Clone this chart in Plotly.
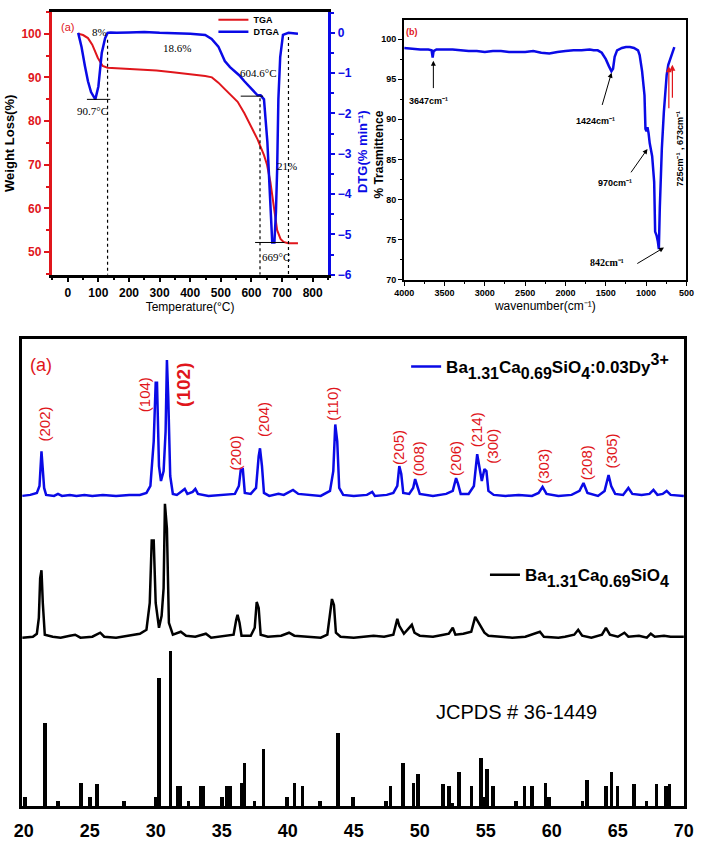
import plotly.graph_objects as go

# ---------------- (a) TGA / DTGA ----------------
TGA_T = [34, 50, 66, 80, 98, 114, 130, 180, 236, 290, 343, 400, 449, 471, 492, 513, 535, 555,
         577, 598, 620, 641, 651, 662, 673, 684, 695, 705, 720, 752]
TGA_W = [100, 99.7, 99.0, 97.5, 94.5, 92.6, 92.2, 92.0, 91.9, 91.6, 91.2, 90.8, 90.3, 90.0, 88.8,
         87.3, 85.9, 84.4, 81.8, 79.0, 75.8, 72.2, 70.0, 66.0, 61.0, 55.0, 53.0, 52.3, 52.0, 52.0]

DTGA_T = [34, 45, 56, 66, 76, 90, 100, 111, 122, 130, 140, 160, 200, 250, 300, 350, 400, 449, 470,
          492, 513, 530, 545, 560, 577, 595, 609, 620, 630, 641, 652, 662, 668, 675, 680, 684, 688,
          694, 703, 721, 752]
DTGA_V = [0, -0.35, -0.82, -1.2, -1.47, -1.65, -1.33, -0.5, -0.13, 0, 0.01, 0, 0.01, 0.02, 0, -0.01,
          -0.02, -0.05, -0.15, -0.34, -0.7, -0.85, -0.95, -1.05, -1.2, -1.35, -1.48, -1.55, -1.55,
          -1.65, -2.7, -4.35, -5.2, -5.2, -4.45, -3.4, -1.65, -0.6, -0.05, 0, -0.02]

# ---------------- (b) FTIR ----------------
FTIR_WN = [4000, 3900, 3800, 3700, 3660, 3647, 3635, 3600, 3500, 3400, 3300, 3200, 3100, 3000,
           2900, 2800, 2700, 2600, 2500, 2400, 2300, 2200, 2100, 2000, 1900, 1800, 1700, 1650,
           1600, 1550, 1500, 1460, 1430, 1410, 1390, 1360, 1300, 1250, 1200, 1150, 1100, 1080,
           1050, 1020, 1008, 995, 983, 970, 955, 925, 900, 888, 870, 855, 842, 830, 805, 780,
           745, 725, 710, 690, 673, 660, 650]
FTIR_TR = [98.9, 98.8, 98.7, 98.7, 98.6, 97.7, 98.5, 98.7, 98.7, 98.7, 98.6, 98.5, 98.5, 98.4,
           98.5, 98.5, 98.4, 98.4, 98.4, 98.5, 98.3, 98.2, 98.4, 98.5, 98.6, 98.6, 98.7, 98.6,
           98.6, 98.3, 97.5, 96.6, 96.0, 96.3, 97.8, 98.6, 98.9, 99.0, 99.0, 98.9, 98.6, 98.0,
           96.0, 93.0, 88.8, 88.5, 89.0, 88.3, 87.0, 85.4, 82.2, 76.0, 75.5, 74.8, 73.8, 79.0,
           86.3, 90.9, 95.5, 96.8, 97.3, 97.8, 98.4, 98.8, 99.0]

# ---------------- XRD ----------------
DY_2T = [19.9, 20.5, 21.0, 21.2, 21.35, 21.45, 21.55, 21.7, 22.3, 22.6, 22.9, 23.5, 24.0, 24.6,
         25.2, 26.0, 27.0, 28.0, 28.8, 29.3, 29.6, 29.85, 30.0, 30.1, 30.25, 30.4, 30.6, 30.75,
         30.85, 30.95, 31.1, 31.3, 31.6, 32.0, 32.2, 32.4, 32.8, 33.0, 33.2, 34.0, 35.0, 36.0,
         36.3, 36.45, 36.6, 36.75, 37.2, 37.6, 37.8, 37.9, 38.05, 38.2, 38.6, 39.3, 39.7, 40.2,
         40.4, 40.8, 41.5, 42.5, 43.2, 43.45, 43.6, 43.75, 43.9, 44.2, 45.0, 46.0, 46.4, 46.6,
         47.5, 48.0, 48.3, 48.45, 48.6, 48.75, 49.2, 49.5, 49.65, 49.8, 50.0, 51.0, 52.0, 52.5,
         52.75, 52.9, 53.1, 53.7, 54.1, 54.35, 54.5, 54.7, 54.9, 55.05, 55.2, 55.6, 56.5, 57.5,
         58.5, 59.0, 59.3, 59.6, 60.5, 61.5, 62.1, 62.4, 62.7, 63.5, 64.0, 64.3, 64.5, 64.8,
         65.4, 65.8, 66.1, 66.8, 67.4, 67.7, 68.0, 68.4, 68.7, 69.0, 70.0]
DY_I = [0, 1, 3, 10, 45, 30, 8, 1, 0, 2, 0, 1, 0, 1,
        0, 1, 0, 1, 1, 3, 10, 55, 114, 114, 30, 15, 25, 65,
        137, 100, 20, 2, 1, 5, 7, 2, 4, 7, 2, 0, 1, 2,
        10, 27, 27, 3, 2, 8, 40, 48, 30, 3, 0, 2, 1, 5,
        6, 2, 1, 0, 5, 25, 72, 55, 8, 1, 0, 1, 4, 0,
        1, 3, 10, 30, 22, 3, 2, 8, 17, 10, 2, 0, 2, 5,
        18, 12, 2, 2, 10, 42, 30, 15, 27, 25, 5, 1, 0, 1,
        0, 3, 9, 2, 0, 1, 5, 13, 3, 0, 5, 21, 10, 2,
        1, 8, 2, 1, 2, 6, 1, 2, 5, 1, 0]

UN_2T = [19.9, 20.7, 21.0, 21.15, 21.25, 21.35, 21.45, 21.6, 22.2, 22.8, 23.5, 23.9, 24.3, 25.2,
         25.8, 26.1, 27.0, 28.0, 28.8, 29.3, 29.55, 29.7, 29.85, 30.0, 30.25, 30.45, 30.6, 30.7,
         30.85, 31.0, 31.3, 31.9, 32.3, 33.0, 33.8, 34.2, 35.3, 35.9, 36.1, 36.2, 36.35, 36.5,
         37.2, 37.5, 37.65, 37.8, 37.95, 38.5, 39.5, 40.1, 40.5, 41.5, 42.5, 43.0, 43.2, 43.35,
         43.5, 43.65, 44.0, 45.0, 46.5, 47.3, 48.0, 48.3, 48.45, 48.8, 49.4, 49.6, 50.0, 51.0,
         51.8, 52.2, 52.5, 52.7, 53.3, 53.9, 54.2, 54.45, 54.65, 54.9, 55.2, 56.0, 57.0, 58.0,
         59.1, 59.4, 60.5, 61.0, 61.7, 62.0, 62.3, 63.0, 63.8, 64.1, 64.4, 65.0, 65.5, 65.8,
         66.6, 67.2, 67.5, 67.8, 68.5, 69.0, 70.0]
UN_I = [0, 1, 4, 20, 60, 68, 35, 3, 1, 0, 2, 3, 0, 1,
        5, 1, 0, 2, 4, 8, 35, 98, 98, 35, 10, 22, 50, 135,
        110, 15, 3, 6, 2, 1, 4, 0, 2, 3, 18, 23, 15, 2,
        2, 10, 36, 30, 3, 1, 2, 5, 2, 1, 0, 3, 25, 39,
        33, 5, 1, 0, 2, 1, 3, 19, 12, 4, 13, 5, 2, 1,
        3, 4, 10, 3, 4, 6, 21, 15, 11, 5, 2, 1, 0, 1,
        6, 1, 0, 1, 3, 8, 2, 0, 3, 10, 3, 1, 5, 1,
        2, 0, 4, 1, 2, 1, 1]

JCPDS_2T = [20.07, 21.6, 22.6, 24.3, 25.0, 25.55, 27.55, 30.0, 30.25, 31.1, 31.65, 31.8, 32.45,
            33.4, 33.55, 35.0, 35.35, 35.6, 36.5, 36.7, 37.45, 38.15, 39.9, 40.5, 41.1, 42.4,
            43.8, 44.9, 47.4, 47.75, 48.7, 49.5, 49.85, 51.75, 52.2, 52.4, 52.95, 53.9, 54.6,
            54.75, 55.05, 55.5, 57.25, 57.9, 58.5, 59.5, 59.75, 62.3, 62.65, 64.1, 64.5, 64.95,
            66.2, 67.15, 67.9, 68.6, 68.9]
JCPDS_I = [6, 54, 3, 15, 6, 14, 3, 6, 83, 100, 13, 13, 3,
           13, 13, 6, 13, 13, 15, 28, 3, 37, 6, 15, 13, 3,
           47, 6, 3, 13, 28, 15, 21, 14, 13, 2, 22, 13, 31,
           6, 24, 13, 3, 13, 13, 15, 6, 3, 17, 13, 22, 13,
           14, 3, 14, 13, 14]

HKL = ["(202)", "(104)", "(102)", "(200)", "(204)", "(110)", "(205)", "(008)", "(206)",
       "(214)", "(300)", "(303)", "(208)", "(305)"]

DY_OFFSET = 313
UN_OFFSET = 170
STICK_SCALE = 1.56

RED = "#e0161c"
BLUE = "#0a0ae6"
SANS = "Liberation Sans"
SERIF = "Liberation Serif"


def sub(t):
    return "<span style='baseline-shift:-6px;font-size:16px'>" + t + "</span>"


def sup(t):
    return "<span style='baseline-shift:8px;font-size:16px'>" + t + "</span>"


DY_NAME = "Ba" + sub("1.31") + "Ca" + sub("0.69") + "SiO" + sub("4") + ":0.03Dy" + sup("3+")
UN_NAME = "Ba" + sub("1.31") + "Ca" + sub("0.69") + "SiO" + sub("4")

fig = go.Figure()

# TGA panel
fig.add_trace(go.Scatter(x=TGA_T, y=TGA_W, mode="lines", name="TGA",
                         line=dict(color=RED, width=2), xaxis="x", yaxis="y", legend="legend"))
fig.add_trace(go.Scatter(x=DTGA_T, y=DTGA_V, mode="lines", name="DTGA",
                         line=dict(color=BLUE, width=2.5), xaxis="x", yaxis="y2", legend="legend4"))

# FTIR
fig.add_trace(go.Scatter(x=FTIR_WN, y=FTIR_TR, mode="lines", showlegend=False,
                         line=dict(color=BLUE, width=2.5), xaxis="x2", yaxis="y3"))

# XRD
fig.add_trace(go.Scatter(x=DY_2T, y=[v + DY_OFFSET for v in DY_I], mode="lines", name=DY_NAME,
                         line=dict(color=BLUE, width=2.5), xaxis="x3", yaxis="y4", legend="legend2"))
fig.add_trace(go.Scatter(x=UN_2T, y=[v + UN_OFFSET for v in UN_I], mode="lines", name=UN_NAME,
                         line=dict(color="black", width=2.5), xaxis="x3", yaxis="y4", legend="legend3"))
fig.add_trace(go.Bar(x=JCPDS_2T, y=[v * STICK_SCALE for v in JCPDS_I], width=0.28,
                     marker=dict(color="black", line=dict(width=0)), showlegend=False,
                     xaxis="x3", yaxis="y4"))


def px_x(p):
    return p / 711.0


def px_y(p):
    return 1 - p / 849.0


bold = dict(family=SANS, weight="bold")
nolegbg = dict(bgcolor="rgba(0,0,0,0)", borderwidth=0, xanchor="left", yanchor="middle")

fig.update_layout(
    width=711, height=849, margin=dict(l=0, r=0, t=0, b=0),
    paper_bgcolor="white", plot_bgcolor="white", bargap=0,
    font=dict(family=SANS, size=12, color="black"),
    xaxis=dict(domain=[px_x(43), px_x(327)], range=[-52, 851], anchor="y",
               showline=True, linecolor="black", linewidth=2.5, mirror=True,
               ticks="outside", ticklen=5, tickwidth=1.5, tickcolor="black", dtick=100, tick0=0,
               minor=dict(ticks="outside", ticklen=3, dtick=50, tickcolor="black"),
               showgrid=False, zeroline=False,
               tickfont=dict(size=12, color="black", **bold),
               title=dict(text="Temperature(°C)", font=dict(family=SANS, size=12, color="black"),
                          standoff=4)),
    yaxis=dict(domain=[px_y(277), px_y(12)], range=[44.8, 105], anchor="x",
               showline=True, linecolor=RED, linewidth=3,
               ticks="outside", ticklen=5, tickwidth=1.5, tickcolor=RED, dtick=10, tick0=0,
               minor=dict(ticks="outside", ticklen=3, dtick=5, tickcolor=RED),
               showgrid=False, zeroline=False,
               tickfont=dict(size=12, color=RED, **bold),
               title=dict(text="Weight Loss(%)", font=dict(size=13, color="black", **bold),
                          standoff=4)),
    yaxis2=dict(overlaying="y", side="right", anchor="x", range=[-6, 0.52],
                showline=True, linecolor=BLUE, linewidth=3,
                ticks="outside", ticklen=4, tickwidth=1.5, tickcolor=BLUE, dtick=1, tick0=0,
                minor=dict(ticks="outside", ticklen=3, dtick=0.5, tickcolor=BLUE),
                showgrid=False, zeroline=False,
                tickfont=dict(size=12, color=BLUE, **bold)),
    xaxis2=dict(domain=[px_x(405), px_x(695)], range=[4000, 500], anchor="y3",
                showline=True, linecolor="black", linewidth=2, mirror=True,
                ticks="outside", ticklen=4, tickwidth=1, tickcolor="black", dtick=500, tick0=0,
                minor=dict(ticks="outside", ticklen=2, dtick=250, tickcolor="black"),
                showgrid=False, zeroline=False,
                tickfont=dict(size=9, color="black", **bold),
                title=dict(text="wavenumber(cm⁻¹)",
                           font=dict(family=SANS, size=12, color="black"), standoff=4)),
    yaxis3=dict(domain=[px_y(282), px_y(20)], range=[70, 102.4], anchor="x2",
                showline=True, linecolor="black", linewidth=2, mirror=True,
                ticks="outside", ticklen=4, tickwidth=1, tickcolor="black", dtick=5, tick0=0,
                minor=dict(ticks="outside", ticklen=2, dtick=2.5, tickcolor="black"),
                showgrid=False, zeroline=False,
                tickfont=dict(size=9, color="black", **bold)),
    xaxis3=dict(domain=[px_x(12), px_x(693)], range=[19.85, 70.05], anchor="y4",
                showline=True, linecolor="black", linewidth=3, mirror=True,
                ticks="", dtick=5, tick0=0, ticklabelstandoff=6,
                showgrid=False, zeroline=False,
                tickfont=dict(size=18, color="black", **bold)),
    yaxis4=dict(domain=[px_y(813), px_y(342)], range=[0, 471], anchor="x3",
                showline=True, linecolor="black", linewidth=3, mirror=True,
                ticks="", showticklabels=False, showgrid=False, zeroline=False),
    legend=dict(x=px_x(209), y=px_y(20), font=dict(size=9, color="black", **bold), **nolegbg),
    legend4=dict(x=px_x(209), y=px_y(32), font=dict(size=9, color="black", **bold), **nolegbg),
    legend2=dict(x=px_x(407), y=px_y(370), font=dict(size=17, color="black", **bold), **nolegbg),
    legend3=dict(x=px_x(488), y=px_y(580), font=dict(size=17, color="black", **bold), **nolegbg),
)

ann = []
# axis titles placed beside the crowded gap between the two upper panels
ann.append(dict(text="DTG(% min⁻¹)", x=px_x(362), y=px_y(153), xref="paper", yref="paper",
                showarrow=False, textangle=-90, xanchor="center", yanchor="middle",
                font=dict(size=13, color=BLUE, **bold)))
ann.append(dict(text="% Trasmittence", x=px_x(379), y=px_y(156), xref="paper", yref="paper",
                showarrow=False, textangle=-90, xanchor="center", yanchor="middle",
                font=dict(size=12, color="black", **bold)))

# TGA annotations
for txt, x, y in [("8%", 104, 100.45), ("18.6%", 358, 96.8), ("604.6°C", 622, 91.1),
                  ("90.7°C", 82, 82.3), ("21%", 717, 69.8), ("669°C", 679, 48.9)]:
    ann.append(dict(text=txt, x=x, y=y, xref="x", yref="y", showarrow=False,
                    font=dict(family=SERIF, size=11, color="black")))
ann.append(dict(text="(a)", x=-2, y=101.6, xref="x", yref="y", showarrow=False,
                font=dict(family=SANS, size=11, color=RED)))

# FTIR annotations
ann.append(dict(text="(b)", x=3903, y=100.9, xref="x2", yref="y3", showarrow=False,
                font=dict(size=9, color=RED, **bold)))
for txt, tx, ty, ax_, ay_, hx, hy in [
        ("3647cm⁻¹", 3698, 92.3, 3638, 93.7, 3638, 97.3),
        ("1424cm⁻¹", 1622, 89.8, 1550, 91.6, 1429, 95.8),
        ("970cm⁻¹", 1381, 82.0, 1200, 83.2, 983, 86.3)]:
    ann.append(dict(text=txt, x=tx, y=ty, xref="x2", yref="y3", showarrow=False,
                    font=dict(size=9, color="black", **bold)))
    ann.append(dict(text="", x=hx, y=hy, ax=ax_, ay=ay_, xref="x2", yref="y3",
                    axref="x2", ayref="y3", showarrow=True, arrowhead=2, arrowsize=1,
                    arrowwidth=1, arrowcolor="black"))
ann.append(dict(text="842cm⁻¹", x=1490, y=72.1, xref="x2", yref="y3", showarrow=False,
                font=dict(family=SERIF, size=10, color="black", weight="bold")))
ann.append(dict(text="", x=778, y=74.0, ax=1128, ay=71.9, xref="x2", yref="y3",
                axref="x2", ayref="y3", showarrow=True, arrowhead=2, arrowwidth=1,
                arrowcolor="black"))
ann.append(dict(text="725cm⁻¹ , 673cm⁻¹", x=585, y=86.3, xref="x2",
                yref="y3", showarrow=False, textangle=-90,
                font=dict(size=9, color="black", **bold)))
for x_, y0, y1 in [(718, 91.2, 96.6), (674, 92.5, 96.8)]:
    ann.append(dict(text="", x=x_, y=y1, ax=x_, ay=y0, xref="x2", yref="y3",
                    axref="x2", ayref="y3", showarrow=True, arrowhead=2, arrowwidth=1.2,
                    arrowcolor=RED))

# XRD annotations
hkl_pos = [(21.54, 386), (29.15, 415), (32.15, 425), (36.03, 356), (38.16, 390), (43.43, 406),
           (48.40, 362), (49.87, 350), (52.65, 351), (54.33, 380), (55.50, 363), (59.38, 343),
           (62.60, 346), (64.50, 358)]
for lab, (x_, y_) in zip(HKL, hkl_pos):
    big = lab == "(102)"
    ann.append(dict(text=lab, x=x_, y=y_, xref="x3", yref="y4", showarrow=False, textangle=-90,
                    font=dict(family=SANS, size=19 if big else 15, color=RED,
                              weight="bold" if big else "normal")))
ann.append(dict(text="(a)", x=px_x(32), y=px_y(368), xref="paper", yref="paper", showarrow=False,
                xanchor="center", yanchor="middle",
                font=dict(family=SANS, size=18, color=RED)))
ann.append(dict(text="JCPDS # 36-1449", x=px_x(520), y=px_y(718), xref="paper", yref="paper",
                xanchor="center", yanchor="middle",
                showarrow=False, font=dict(family=SANS, size=20, color="black")))
fig.update_layout(annotations=ann)

shapes = []
for x0, x1, y_ in [(62.6, 139, -1.65), (565, 638, -1.57), (612, 708, -5.2)]:
    shapes.append(dict(type="line", x0=x0, x1=x1, y0=y_, y1=y_, xref="x", yref="y2",
                       line=dict(color="black", width=1)))
for x_, ytop in [(130, -0.17), (628, -1.62), (721, -0.1)]:
    shapes.append(dict(type="line", x0=x_, x1=x_, y0=ytop, y1=-6, xref="x", yref="y2",
                       line=dict(color="black", width=1.2, dash="dot")))
fig.update_layout(shapes=shapes)

fig.write_html("out.html")
